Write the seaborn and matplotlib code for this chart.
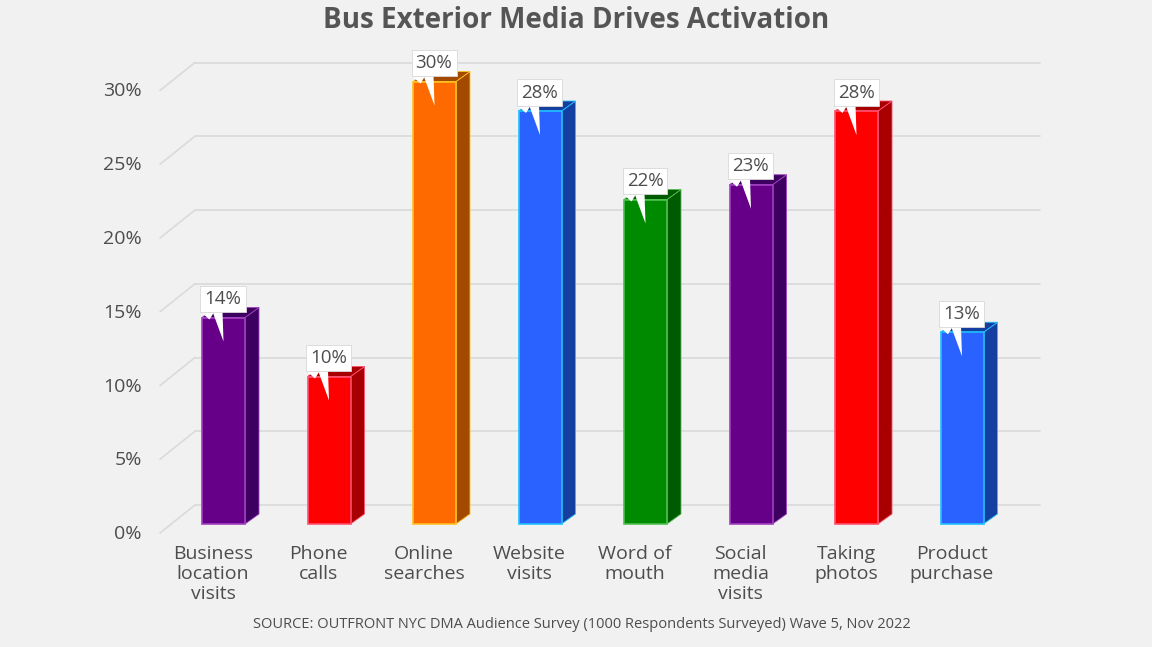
import matplotlib
matplotlib.use('Agg')
import matplotlib.pyplot as plt
import pandas as pd
import seaborn as sns
from matplotlib.patches import Polygon

# values
categories = ['Business\nlocation\nvisits', 'Phone\ncalls', 'Online\nsearches', 'Website\nvisits',
              'Word of\nmouth', 'Social\nmedia\nvisits', 'Taking\nphotos', 'Product\npurchase']
values = [14, 10, 30, 28, 22, 23, 28, 13]
front_colors = ['#660088', '#ff0000', '#ff6a00', '#2a62ff', '#008a00', '#660088', '#ff0000', '#2a62ff']
side_colors = ['#3d0060', '#a80000', '#a34a00', '#143fa0', '#005a00', '#3d0060', '#a80000', '#143fa0']
edge_colors = ['#a040c0', '#ff5070', '#ffc020', '#20c0ff', '#50c050', '#a040c0', '#ff5070', '#20c0ff']
y_ticks = [0, 5, 10, 15, 20, 25, 30]

BG = '#f1f1f2'
TEXT = '#4d4d4d'
FONT = ['Open Sans', 'DejaVu Sans']

sns.set_theme(style='white')
plt.rcParams['font.family'] = FONT

df = pd.DataFrame({'category': categories, 'value': values})

W, H = 1152, 647
PX_CAT = 105.5   # pixels between bars
PX_PCT = 14.75   # pixels per percent
X0, Y0 = 223.5, 524  # pixel of first bar centre, and of value 0
DEPTH_X = 14 / PX_CAT
DEPTH_Y = 10 / PX_PCT

fig = plt.figure(figsize=(W / 100, H / 100), dpi=100, facecolor=BG)
left, right, top, bottom = 150, 1042, 40, 545
ax = fig.add_axes([left / W, 1 - bottom / H, (right - left) / W, (bottom - top) / H])
ax.set_facecolor(BG)


def px_x(dx):
    return dx / PX_CAT


def px_y(dy):
    return dy / PX_PCT


sns.barplot(data=df, x='category', y='value', hue='category', palette=dict(zip(categories, front_colors)),
            width=43 / PX_CAT, saturation=1, legend=False, ax=ax, zorder=4)
ax.set_xlim((left - X0) / PX_CAT, (right - X0) / PX_CAT)
ax.set_ylim((Y0 - bottom) / PX_PCT, (Y0 - top) / PX_PCT)

half = 43 / PX_CAT / 2
for i, (bar, v) in enumerate(zip(ax.patches, values)):
    bar.set_edgecolor(edge_colors[i])
    bar.set_linewidth(1.2)
    # side and top faces
    side = [(i + half, 0), (i + half + DEPTH_X, DEPTH_Y), (i + half + DEPTH_X, v + DEPTH_Y), (i + half, v)]
    roof = [(i - half, v), (i - half + DEPTH_X, v + DEPTH_Y), (i + half + DEPTH_X, v + DEPTH_Y), (i + half, v)]
    ax.add_patch(Polygon(side, fc=side_colors[i], ec=edge_colors[i], lw=0.6, zorder=3))
    ax.add_patch(Polygon(roof, fc=side_colors[i], ec=edge_colors[i], lw=0.6, zorder=3))

    # callout box and its tail
    tail = [(i + px_x(-11), v + px_y(6)), (i + px_x(0), v - px_y(24)), (i + px_x(-1), v + px_y(6))]
    ax.add_patch(Polygon(tail, fc='white', ec='none', zorder=6))
    tail2 = [(i + px_x(-21), v + px_y(4)), (i + px_x(-14), v - px_y(2)), (i + px_x(-9), v + px_y(6))]
    ax.add_patch(Polygon(tail2, fc='white', ec='none', zorder=6))
    ax.text(i + px_x(-0.5), v + px_y(18.5), f'{v}%', ha='center', va='center', fontsize=13.5,
            color=TEXT, zorder=7,
            bbox=dict(boxstyle='square,pad=0.22', fc='white', ec='#d8d8d8', lw=0.6))

# back wall grid and the slanted floor lines
for v in y_ticks:
    back = v + px_y(19)
    ax.plot([px_x(195 - X0), px_x(1040 - X0)], [back, back], color='#dadada', lw=1.2, zorder=1)
    ax.plot([px_x(160 - X0), px_x(195 - X0)], [v - px_y(9), back], color='#dadada', lw=1.2, zorder=1)

sns.despine(ax=ax, left=True, bottom=True)
ax.set_xlabel('')
ax.set_ylabel('')
ax.set_yticks([v - px_y(8) for v in y_ticks], [f'{v}%' for v in y_ticks])
ax.set_xticks([i - px_x(10.5) for i in range(len(categories))], categories)
ax.tick_params(axis='y', length=0, pad=6, labelsize=14, labelcolor=TEXT)
ax.tick_params(axis='x', length=0, pad=0, labelsize=14, labelcolor=TEXT)
for lab in ax.get_xticklabels():
    lab.set_linespacing(1.15)

fig.text(576 / W, 1 - 20 / H, 'Bus Exterior Media Drives Activation', ha='center', va='center',
         fontsize=20, fontweight='bold', color='#555555')
fig.text(582 / W, 1 - 625 / H, 'SOURCE: OUTFRONT NYC DMA Audience Survey (1000 Respondents Surveyed) Wave 5, Nov 2022',
         ha='center', va='center', fontsize=10.5, color=TEXT)

fig.savefig('out.png', dpi=100, facecolor=BG)
